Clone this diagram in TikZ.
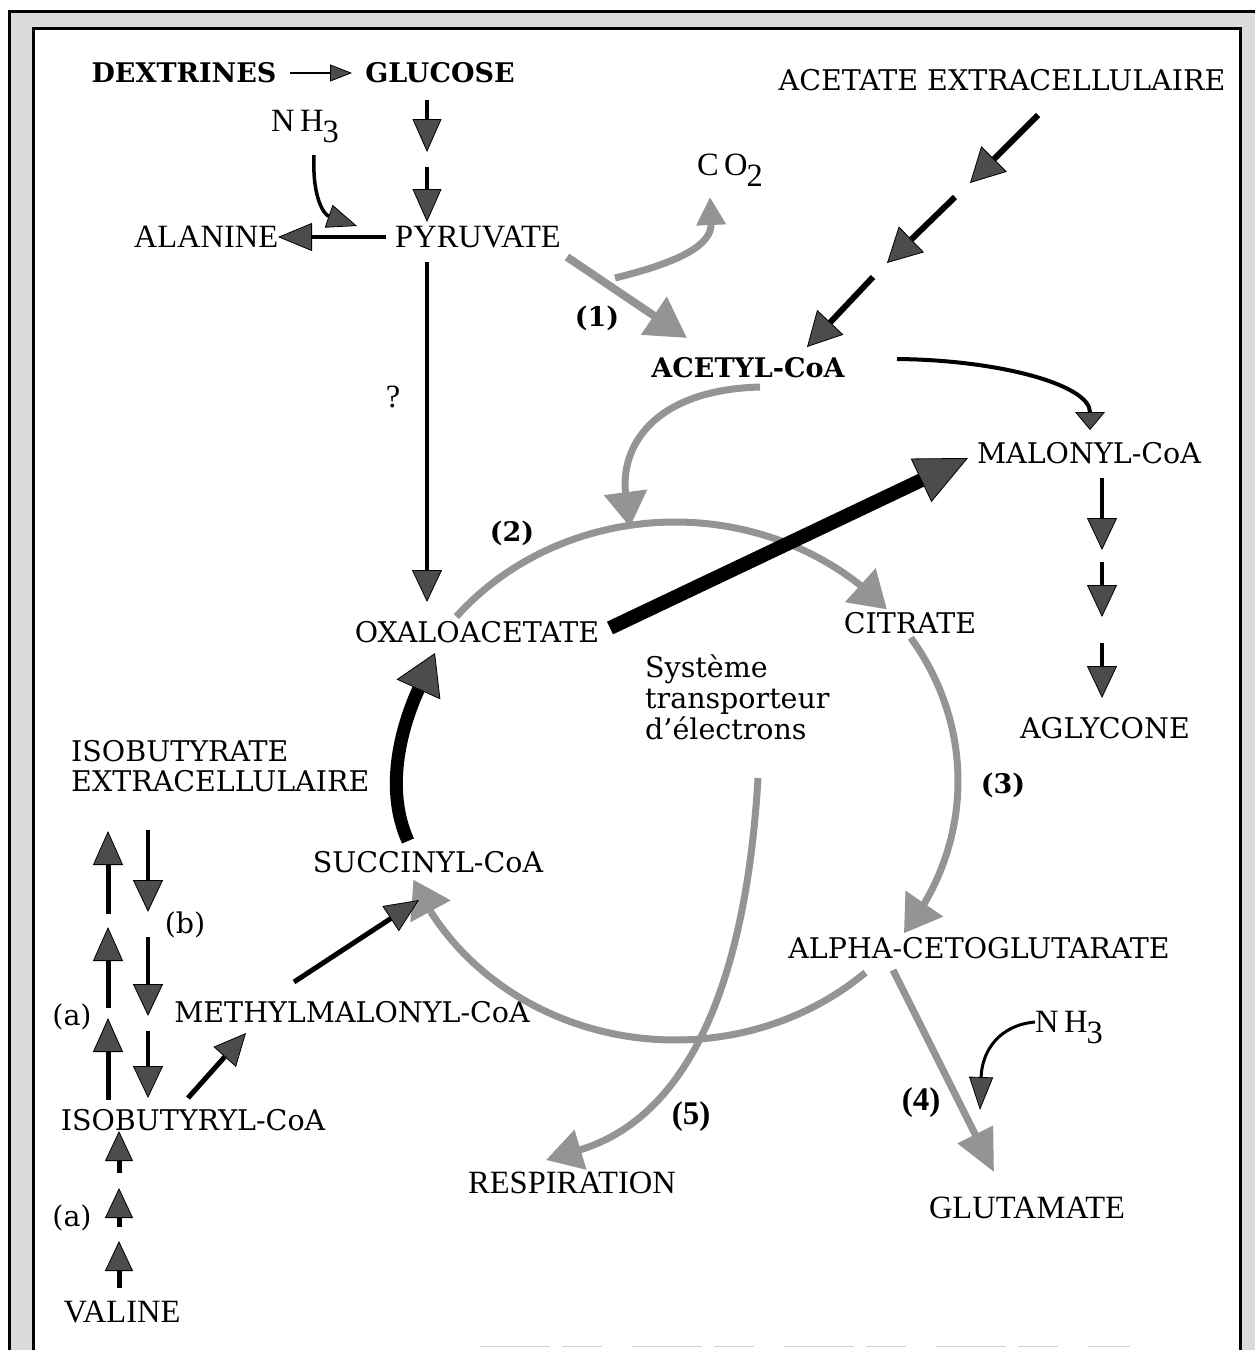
\documentclass[tikz,border=0pt]{standalone}
\usepackage{fontspec}
\setmainfont{DejaVu Serif}
\newfontfamily\tms{Liberation Serif}
\usetikzlibrary{arrows.meta}
\definecolor{stip}{gray}{0.58}
\definecolor{band}{gray}{0.86}
\definecolor{headfill}{gray}{0.3}
\begin{document}
\begin{tikzpicture}[x=1pt,y=-1pt,
  serif/.style={font=\fontsize{28.5}{31}\selectfont, inner sep=0pt},
  times/.style={font=\tms\fontsize{32.5}{34}\selectfont, inner sep=0pt},
  heavy/.style={font=\bfseries\fontsize{27}{30}\selectfont, inner sep=0pt},
  num/.style={font=\bfseries\fontsize{27}{29}\selectfont, inner sep=0pt},
  numt/.style={font=\tms\bfseries\fontsize{33}{35}\selectfont, inner sep=0pt},
  bh/.style 2 args={-{Triangle[length=#1,width=#2,line width=0.8pt,fill=headfill]}},
  gh/.style 2 args={-{Triangle[length=#1,width=#2]}},
  blk/.style={draw=black, line width=#1},
  gry/.style={draw=stip, line width=#1},
]
\useasboundingbox (0,0) rectangle (1254,1350);
% frame
\fill[band, even odd rule] (9,11) rectangle (1290,1400) (33,28) rectangle (1240,1400);
\draw[line width=3pt] (9,1352) -- (9,11) -- (1256,11);
\draw[line width=3pt] (33,1352) -- (33,28) -- (1240,28) -- (1240,1352);
\draw[gray!35, line width=0.5pt, dash pattern=on 70pt off 12pt on 40pt off 30pt] (480,1346) -- (1130,1346);

% texts
\node[heavy] (dex) at (184,73) {DEXTRINES};
\node[heavy] (glu) at (440,73) {GLUCOSE};
\node[serif] (ace) at (1002,80) {ACETATE EXTRACELLULAIRE};
\node[times] (nh3a) at (305,127) {N\,H\kern-1pt\raisebox{-11pt}{3}};
\node[times] (ala) at (206,237) {ALANINE};
\node[times] (pyr) at (478,237) {PYRUVATE};
\node[times] (co2) at (730,170) {C\,O\kern-1pt\raisebox{-11pt}{2}};
\node[num] (n1) at (597,318) {(1)};
\node[heavy] (acoa) at (748,368) {ACETYL-CoA};
\node[serif] (mal) at (1089,453) {MALONYL-CoA};
\node[times] (q) at (393,397) {?};
\node[num] (n2) at (512,533) {(2)};
\node[serif] (oxa) at (477,632) {OXALOACETATE};
\node[serif] (cit) at (910,623) {CITRATE};
\node[serif, align=left, anchor=north west] (ste) at (645,655) {Système\\transporteur\\d'électrons};
\node[serif] (agl) at (1105,728) {AGLYCONE};
\node[num] (n3) at (1003,785) {(3)};
\node[serif, anchor=west] (isob) at (71,751) {ISOBUTYRATE};
\node[serif, anchor=west] (isoe) at (71,781) {EXTRACELLULAIRE};
\node[serif] (suc) at (428,862) {SUCCINYL-CoA};
\node[serif] (lb) at (185,925) {(b)};
\node[serif] (alpha) at (979,948) {ALPHA-CETOGLUTARATE};
\node[serif] (la1) at (72,1017) {(a)};
\node[serif] (meth) at (352,1012) {METHYLMALONYL-CoA};
\node[times] (nh3b) at (1069,1028) {N\,H\kern-1pt\raisebox{-11pt}{3}};
\node[serif] (isoy) at (193,1120) {ISOBUTYRYL-CoA};
\node[numt] (n4) at (921,1103) {(4)};
\node[numt] (n5) at (691,1117) {(5)};
\node[times] (resp) at (572,1183) {RESPIRATION};
\node[times] (glut) at (1027,1208) {GLUTAMATE};
\node[serif] (la2) at (72,1218) {(a)};
\node[times] (val) at (122,1312) {VALINE};

% coordinates
\coordinate (dg1) at (290,73);  \coordinate (dg2) at (352,73);
\coordinate (g1a) at (427,100); \coordinate (g1b) at (427,152);
\coordinate (g2a) at (427,167); \coordinate (g2b) at (427,222);
\coordinate (nha) at (314,155); \coordinate (nhb) at (357,226);
\coordinate (pa1) at (386,237); \coordinate (pa2) at (278,237);
\coordinate (po1) at (427,262); \coordinate (po2) at (427,602);
\coordinate (pc1) at (567,257); \coordinate (pc2) at (687,338);
\coordinate (co1) at (615,278); \coordinate (co2t) at (710,197);
\coordinate (a1s) at (1038,115); \coordinate (a1e) at (970,183);
\coordinate (a2s) at (955,197);  \coordinate (a2e) at (887,263);
\coordinate (a3s) at (873,277);  \coordinate (a3e) at (807,347);
\coordinate (am1) at (897,359); \coordinate (am2) at (1090,430);
\coordinate (ac1) at (760,387); \coordinate (ac2) at (630,527);
\coordinate (om1) at (610,628); \coordinate (om2) at (968,458);
\coordinate (m1a) at (1102,478); \coordinate (m1b) at (1102,550);
\coordinate (m2a) at (1102,562); \coordinate (m2b) at (1102,617);
\coordinate (m3a) at (1102,643); \coordinate (m3b) at (1102,698);
\coordinate (so1) at (408,841); \coordinate (so2) at (435,653);
\coordinate (sr1) at (758,778); \coordinate (sr2) at (546,1160);
\coordinate (ag1) at (893,970); \coordinate (ag2) at (994,1172);
\coordinate (ng1) at (1035,1022); \coordinate (ng2) at (980,1110);
\coordinate (u1a) at (108,914); \coordinate (u1b) at (108,831);
\coordinate (u2a) at (108,1008); \coordinate (u2b) at (108,927);
\coordinate (u3a) at (108,1100); \coordinate (u3b) at (108,1018);
\coordinate (d1a) at (148,830); \coordinate (d1b) at (148,912);
\coordinate (d2a) at (148,937); \coordinate (d2b) at (148,1016);
\coordinate (d3a) at (148,1031); \coordinate (d3b) at (148,1098);
\coordinate (v1a) at (119,1173); \coordinate (v1b) at (119,1131);
\coordinate (v2a) at (119,1227); \coordinate (v2b) at (119,1188);
\coordinate (v3a) at (119,1288); \coordinate (v3b) at (119,1241);
\coordinate (im1) at (188,1098); \coordinate (im2) at (246,1033);
\coordinate (ms1) at (294,982); \coordinate (ms2) at (419,900);
% cycle points
\coordinate (c1h) at ({675+283*cos(49)},{781-259*sin(49)});
\coordinate (c1t) at ({675+283*cos(41.5)},{781-259*sin(41.5)});
\coordinate (c2h) at ({675+283*cos(-28.5)},{781-259*sin(-28.5)});
\coordinate (c2t) at ({675+283*cos(-36)},{781-259*sin(-36)});
\coordinate (c3h) at ({675+283*cos(-149.5)},{781-259*sin(-149.5)});
\coordinate (c3t) at ({675+283*cos(-157.6)},{781-259*sin(-157.6)});

% gray (stippled) pathways
\draw[gry=7pt] plot[smooth, domain=140.6:49, samples=40] ({675+283*cos(\x)},{781-259*sin(\x)});
\draw[gry=7pt, gh={36pt}{44pt}] (c1h) -- (c1t);
\draw[gry=7pt] plot[smooth, domain=33.6:-28.5, samples=30] ({675+283*cos(\x)},{781-259*sin(\x)});
\draw[gry=7pt, gh={36pt}{44pt}] (c2h) -- (c2t);
\draw[gry=7pt] plot[smooth, domain=-47.7:-149.5, samples=40] ({675+283*cos(\x)},{781-259*sin(\x)});
\draw[gry=7pt, gh={36pt}{44pt}] (c3h) -- (c3t);
\draw[gry=8pt, gh={40pt}{44pt}] (pc1) -- (pc2);
\draw[gry=7pt, gh={28pt}{28pt}] (co1) .. controls (680,262) and (712,245) .. (co2t);
\draw[gry=7pt, gh={35pt}{42pt}] (ac1) .. controls (650,390) and (620,450) .. (ac2);
\draw[gry=7pt, gh={36pt}{40pt}] (sr1) .. controls (745,1000) and (680,1120) .. (sr2);
\draw[gry=7pt, gh={42pt}{38pt}] (ag1) -- (ag2);

% black pathways
\draw[blk=2pt, bh={22pt}{17pt}] (dg1) -- (dg2);
\draw[blk=4pt, bh={33pt}{29pt}] (g1a) -- (g1b);
\draw[blk=4pt, bh={33pt}{29pt}] (g2a) -- (g2b);
\draw[blk=3.5pt, bh={30pt}{24pt}] (nha) .. controls (312,200) and (325,215) .. (nhb);
\draw[blk=4pt, bh={34pt}{28pt}] (pa1) -- (pa2);
\draw[blk=3.5pt, bh={32pt}{30pt}] (po1) -- (po2);
\draw[blk=6pt, bh={34pt}{36pt}] (a1s) -- (a1e);
\draw[blk=6pt, bh={34pt}{36pt}] (a2s) -- (a2e);
\draw[blk=6pt, bh={34pt}{36pt}] (a3s) -- (a3e);
\draw[blk=4pt, bh={18pt}{30pt}] (am1) .. controls (1000,360) and (1090,385) .. (am2);
\draw[blk=14pt, bh={52pt}{48pt}] (om1) -- (om2);
\draw[blk=4.5pt, bh={32pt}{30pt}] (m1a) -- (m1b);
\draw[blk=4.5pt, bh={32pt}{30pt}] (m2a) -- (m2b);
\draw[blk=4.5pt, bh={32pt}{30pt}] (m3a) -- (m3b);
\draw[blk=13pt, bh={40pt}{48pt}] (so1) .. controls (385,790) and (400,730) .. (so2);
\draw[blk=3pt, bh={33pt}{24pt}] (ng1) .. controls (1000,1025) and (982,1050) .. (ng2);
\draw[blk=5pt, bh={34pt}{30pt}] (u1a) -- (u1b);
\draw[blk=5pt, bh={34pt}{30pt}] (u2a) -- (u2b);
\draw[blk=5pt, bh={34pt}{30pt}] (u3a) -- (u3b);
\draw[blk=4.5pt, bh={32pt}{30pt}] (d1a) -- (d1b);
\draw[blk=4.5pt, bh={32pt}{30pt}] (d2a) -- (d2b);
\draw[blk=4.5pt, bh={32pt}{30pt}] (d3a) -- (d3b);
\draw[blk=5pt, bh={30pt}{28pt}] (v1a) -- (v1b);
\draw[blk=5pt, bh={30pt}{28pt}] (v2a) -- (v2b);
\draw[blk=5pt, bh={30pt}{28pt}] (v3a) -- (v3b);
\draw[blk=5pt, bh={32pt}{30pt}] (im1) -- (im2);
\draw[blk=5pt, bh={34pt}{30pt}] (ms1) -- (ms2);
\end{tikzpicture}
\end{document}
